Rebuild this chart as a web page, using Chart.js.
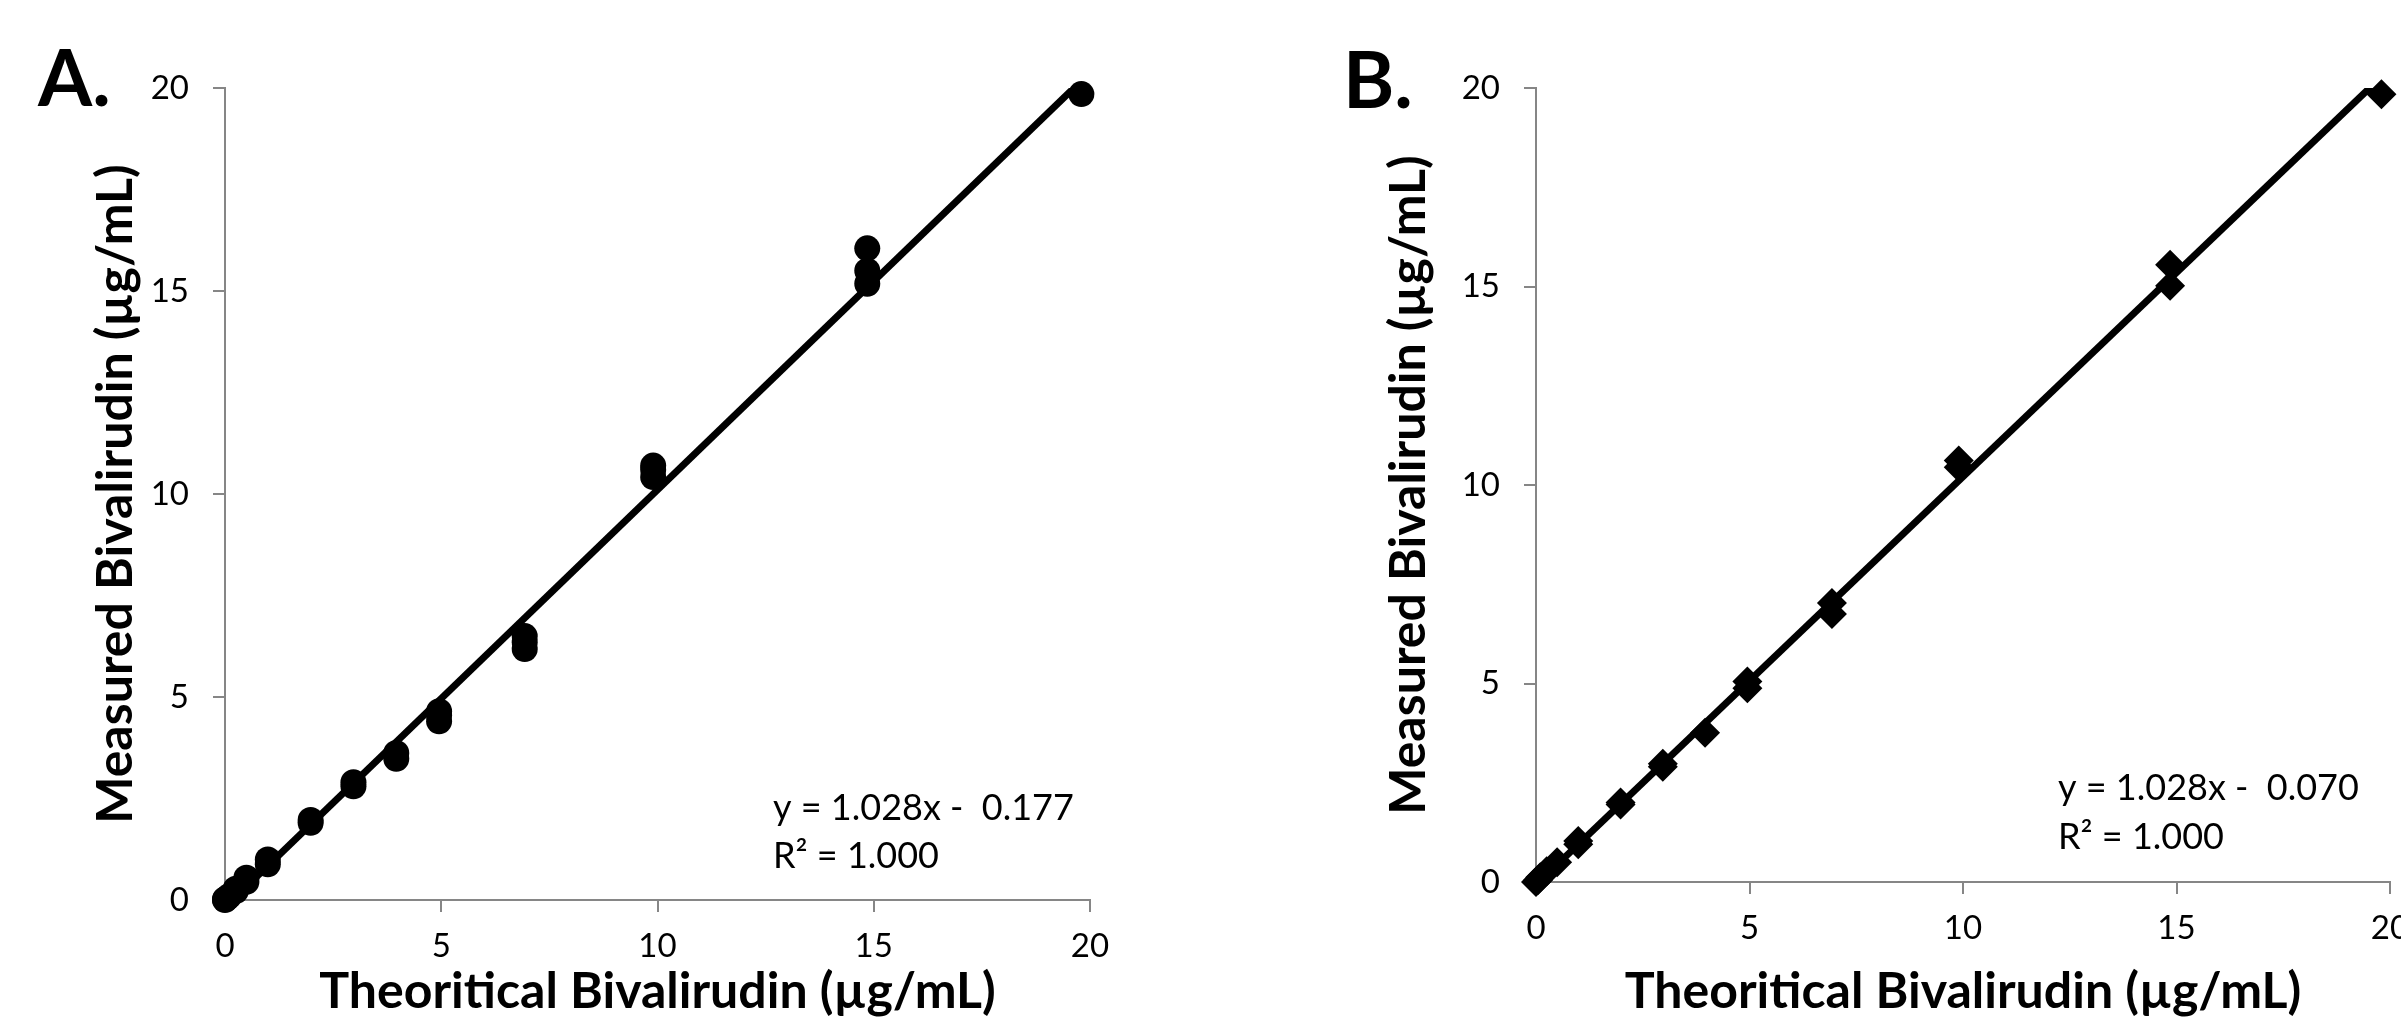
<!DOCTYPE html>
<html>
<head>
<meta charset="utf-8">
<script src="https://cdn.jsdelivr.net/npm/chart.js@4.4.1/dist/chart.umd.min.js"></script>
<style>
    html, body { margin: 0; padding: 0; background: #fff; overflow: hidden; }
    #wrapA { position: absolute; left: 0; top: 0; width: 1200px; height: 1017px; }
    #wrapB { position: absolute; left: 1200px; top: 0; width: 1201px; height: 1017px; }
</style>
</head>
<body>
<div id="wrapA"><canvas id="chartA" width="1200" height="1017"></canvas></div>
<div id="wrapB"><canvas id="chartB" width="1201" height="1017"></canvas></div>
<script>
// Panel A data (circles)
const theoreticalA = [0, 0, 0.05, 0.1, 0.25, 0.25, 0.495, 0.495, 0.99, 0.99, 1.98, 1.98, 2.97, 2.97, 3.96, 3.96,
    4.95, 4.95, 4.95, 6.93, 6.93, 6.93, 9.9, 9.9, 9.9, 14.85, 14.85, 14.85, 19.8];
const measuredA = [0, 0.02, 0.05, 0.1, 0.22, 0.28, 0.45, 0.55, 0.88, 1.0, 1.9, 1.97, 2.8, 2.9, 3.48, 3.62,
    4.4, 4.55, 4.65, 6.18, 6.35, 6.5, 10.42, 10.6, 10.7, 15.18, 15.5, 16.05, 19.85];

// Panel B data (diamonds)
const theoreticalB = [0, 0.05, 0.1, 0.25, 0.495, 0.99, 0.99, 1.98, 1.98, 2.97, 2.97, 3.96, 4.95, 4.95,
    6.93, 6.93, 9.9, 9.9, 14.85, 14.85, 19.8];
const measuredB = [0, 0.05, 0.12, 0.27, 0.5, 0.95, 1.03, 1.95, 2.0, 2.9, 2.98, 3.76, 4.88, 5.05,
    6.75, 7.03, 10.45, 10.62, 15.02, 15.55, 19.84];

// Trendline coefficients as printed on the chart
const slopeA = 1.028, interceptA = -0.177;
const slopeB = 1.028, interceptB = -0.070;

const tickValues = [0, 5, 10, 15, 20];
const xTitle = "Theoritical Bivalirudin (\u00b5g/mL)";
const yTitle = "Measured Bivalirudin (\u00b5g/mL)";

const axisGray = "#868686";
const fontFamily = "Lato, 'Open Sans', sans-serif";

// panel letter and equation text
const panelText = {
    id: "panelText",
    afterDraw(chart, args, opts) {
        const ctx = chart.ctx;
        ctx.save();
        ctx.fillStyle = "#000";
        ctx.textAlign = "left";
        ctx.textBaseline = "alphabetic";
        ctx.font = "bold 78px " + fontFamily;
        ctx.fillText(opts.label, opts.labelX, opts.labelY);
        ctx.font = "36px " + fontFamily;
        ctx.textBaseline = "middle";
        opts.lines.forEach(function (t, i) {
            ctx.fillText(t, opts.eqX, opts.eqY + i * opts.eqGap);
        });
        ctx.restore();
    }
};

function makeChart(id, xs, ys, style, radius, slope, intercept, setup) {
    const points = xs.map(function (x, i) { return { x: x, y: ys[i] }; });
    const xMin = Math.min.apply(null, xs), xMax = Math.max.apply(null, xs);
    const trend = [
        { x: xMin, y: slope * xMin + intercept },
        { x: xMax, y: slope * xMax + intercept }
    ];
    const tickFont = { family: fontFamily, size: 33, lineHeight: 1 };
    const titleFont = { family: fontFamily, size: 50, weight: "bold", lineHeight: 1 };

    return new Chart(document.getElementById(id).getContext("2d"), {
        type: "scatter",
        data: {
            datasets: [{
                label: "Measured",
                data: points,
                pointStyle: style,
                pointRadius: radius,
                pointBackgroundColor: "#000",
                pointBorderColor: "#000",
                pointBorderWidth: 0,
                clip: false
            }, {
                label: "Linear trend",
                data: trend,
                showLine: true,
                borderColor: "#000",
                borderWidth: 7,
                pointRadius: 0,
                clip: 0
            }]
        },
        options: {
            responsive: false,
            animation: false,
            devicePixelRatio: 1,
            layout: { padding: setup.padding, autoPadding: false },
            plugins: {
                legend: { display: false },
                tooltip: { enabled: false },
                panelText: setup.text
            },
            scales: {
                x: {
                    type: "linear", min: 0, max: 20,
                    afterBuildTicks: function (a) { a.ticks = tickValues.map(function (v) { return { value: v }; }); },
                    afterFit: function (a) { a.height = setup.xAxisHeight; a.paddingLeft = 0; a.paddingRight = 0; },
                    grid: { drawOnChartArea: false, drawTicks: true, tickLength: 12, color: axisGray, lineWidth: 2 },
                    border: { display: true, color: axisGray, width: 2 },
                    ticks: { color: "#000", font: tickFont, padding: 18, maxRotation: 0 },
                    title: { display: true, text: xTitle, color: "#000", font: titleFont, padding: { top: 0, bottom: 0 } }
                },
                y: {
                    type: "linear", min: 0, max: 20,
                    afterBuildTicks: function (a) { a.ticks = tickValues.map(function (v) { return { value: v }; }); },
                    afterFit: function (a) { a.width = setup.yAxisWidth; a.paddingTop = 0; a.paddingBottom = 0; },
                    grid: { drawOnChartArea: false, drawTicks: true, tickLength: 12, color: axisGray, lineWidth: 2 },
                    border: { display: true, color: axisGray, width: 2 },
                    ticks: { color: "#000", font: tickFont, padding: 24 },
                    title: { display: true, text: yTitle, color: "#000", font: titleFont, padding: { top: setup.yTitlePad, bottom: 0 } }
                }
            }
        },
        plugins: [panelText]
    });
}

window.onload = function () {
    makeChart("chartA", theoreticalA, measuredA, "circle", 13, slopeA, interceptA, {
        padding: { top: 88, right: 110, bottom: 0, left: 0 },
        yAxisWidth: 225, xAxisHeight: 117, yTitlePad: 91,
        text: {
            label: "A.", labelX: 38, labelY: 106,
            lines: ["y = 1.028x -  0.177", "R\u00b2 = 1.000"],
            eqX: 773, eqY: 808, eqGap: 48
        }
    });
    makeChart("chartB", theoreticalB, measuredB, "rectRot", 15, slopeB, interceptB, {
        padding: { top: 88, right: 11, bottom: 0, left: 0 },
        yAxisWidth: 336, xAxisHeight: 135, yTitlePad: 184,
        text: {
            label: "B.", labelX: 143, labelY: 108,
            lines: ["y = 1.028x -  0.070", "R\u00b2 = 1.000"],
            eqX: 858, eqY: 788, eqGap: 49
        }
    });
};
</script>
</body>
</html>
